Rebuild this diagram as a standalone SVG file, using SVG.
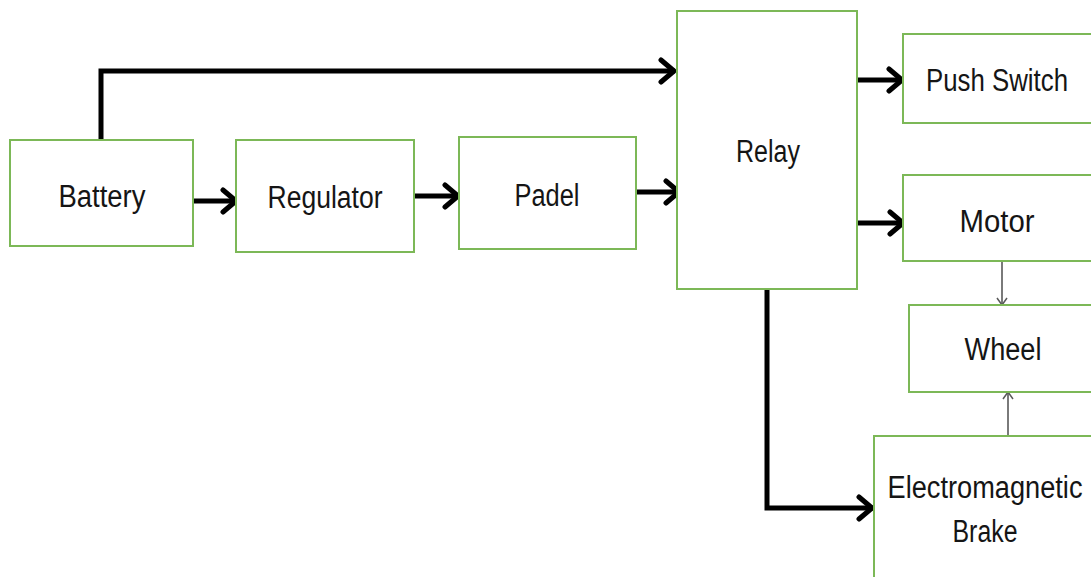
<svg xmlns="http://www.w3.org/2000/svg" width="1091" height="577" viewBox="0 0 1091 577">
  <style>
    .box { fill: #ffffff; stroke: #7cb857; stroke-width: 2; }
    .lbl { font-family: "Liberation Sans", Arial, sans-serif; font-size: 31px; fill: #151515; text-anchor: middle; }
    .thick { fill: none; stroke: #000000; stroke-width: 5; stroke-linejoin: miter; }
    .thin { fill: none; stroke: #595959; stroke-width: 1.6; }
  </style>
  <defs>
    <marker id="chev" viewBox="0 0 20 28" refX="18" refY="14" markerWidth="20" markerHeight="28" markerUnits="userSpaceOnUse" orient="auto">
      <path d="M4,3 L17,14 L4,25" fill="none" stroke="#000" stroke-width="5" stroke-linecap="round" stroke-linejoin="round"/>
    </marker>
    <marker id="small" viewBox="0 0 10 12" refX="9" refY="6" markerWidth="10" markerHeight="12" markerUnits="userSpaceOnUse" orient="auto">
      <path d="M2,1 L9,6 L2,11" fill="none" stroke="#595959" stroke-width="1.5"/>
    </marker>
  </defs>

  <rect width="1091" height="577" fill="#ffffff"/>

  <g id="connectors">
    <path class="thick" d="M101,140 V71 H675" marker-end="url(#chev)"/>
    <path class="thick" d="M193,201 H237" marker-end="url(#chev)"/>
    <path class="thick" d="M414,196 H459" marker-end="url(#chev)"/>
    <path class="thick" d="M636,192 H680" marker-end="url(#chev)"/>
    <path class="thick" d="M857,80 H903" marker-end="url(#chev)"/>
    <path class="thick" d="M857,223 H904" marker-end="url(#chev)"/>
    <path class="thick" d="M767,289 V508 H873" marker-end="url(#chev)"/>
    <path class="thin" d="M1002,261 V305" marker-end="url(#small)"/>
    <path class="thin" d="M1008,436 V392" marker-end="url(#small)"/>
  </g>

  <g id="battery">
    <rect class="box" x="10" y="140" width="183" height="106"/>
    <text class="lbl" x="102" y="207" textLength="87" lengthAdjust="spacingAndGlyphs">Battery</text>
  </g>
  <g id="regulator">
    <rect class="box" x="236" y="140" width="178" height="112"/>
    <text class="lbl" x="325" y="208" textLength="115" lengthAdjust="spacingAndGlyphs">Regulator</text>
  </g>
  <g id="padel">
    <rect class="box" x="459" y="137" width="177" height="112"/>
    <text class="lbl" x="547" y="206" textLength="65" lengthAdjust="spacingAndGlyphs">Padel</text>
  </g>
  <g id="relay">
    <rect class="box" x="677" y="11" width="180" height="278"/>
    <text class="lbl" x="768" y="162" textLength="64" lengthAdjust="spacingAndGlyphs">Relay</text>
  </g>
  <g id="push-switch">
    <rect class="box" x="903" y="34" width="195" height="89"/>
    <text class="lbl" x="997" y="91" textLength="142" lengthAdjust="spacingAndGlyphs">Push Switch</text>
  </g>
  <g id="motor">
    <rect class="box" x="903" y="175" width="195" height="86"/>
    <text class="lbl" x="997" y="232" textLength="75" lengthAdjust="spacingAndGlyphs">Motor</text>
  </g>
  <g id="wheel">
    <rect class="box" x="909" y="305" width="190" height="87"/>
    <text class="lbl" x="1003" y="360" textLength="77" lengthAdjust="spacingAndGlyphs">Wheel</text>
  </g>
  <g id="electromagnetic-brake">
    <rect class="box" x="874" y="436" width="225" height="150"/>
    <text class="lbl" x="985" y="498" textLength="195" lengthAdjust="spacingAndGlyphs">Electromagnetic</text>
    <text class="lbl" x="985" y="542" textLength="65" lengthAdjust="spacingAndGlyphs">Brake</text>
  </g>
</svg>
